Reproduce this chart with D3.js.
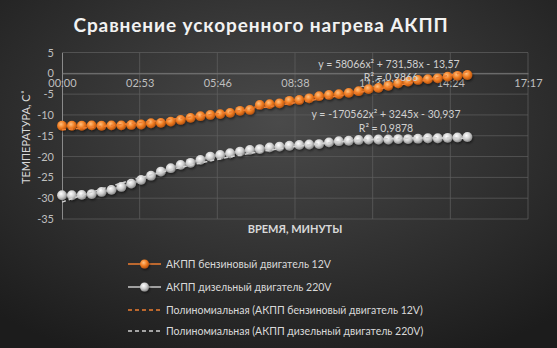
<!DOCTYPE html>
<html>
<head>
<meta charset="utf-8">
<script src="https://cdn.jsdelivr.net/npm/d3@7/dist/d3.min.js"></script>
<style>
  html, body { margin: 0; padding: 0; background: #2b2b2b; }
  svg { display: block; }
  text { font-family: Lato, "Open Sans", sans-serif; }
</style>
</head>
<body>
<svg id="chart" width="557" height="348"></svg>
<script>
// Elapsed time of each reading, seconds from start
const timeSec = [0, 22, 44, 66, 88, 110, 132, 154, 176, 198, 220, 242, 264, 286,
  308, 330, 352, 374, 396, 418, 440, 462, 484, 506, 528, 550, 572, 594,
  616, 638, 660, 682, 704, 726, 748, 770, 792, 814, 836, 858, 880, 902];

// Transmission temperature, °C
const petrol12V = [-12.6, -12.6, -12.6, -12.5, -12.6, -12.5, -12.5, -12.4, -12.3, -12.0,
  -11.9, -11.6, -11.2, -10.7, -10.3, -10.0, -9.8, -9.5, -9.0, -8.8, -7.6, -7.4, -7.2,
  -6.6, -6.4, -6.0, -5.5, -5.2, -5.0, -4.7, -4.3, -3.8, -3.5, -3.0, -2.4, -2.0, -1.6,
  -1.4, -1.2, -0.8, -0.6, -0.4];
const diesel220V = [-29.3, -29.3, -29.2, -29.0, -28.5, -28.0, -27.3, -26.5, -25.6, -24.6,
  -23.6, -22.8, -22.0, -21.5, -20.8, -20.0, -19.6, -19.2, -18.8, -18.4, -18.2, -17.8,
  -17.6, -17.4, -17.2, -17.1, -17.0, -16.6, -16.3, -16.2, -16.0, -15.9, -15.9, -15.9,
  -15.8, -15.8, -15.7, -15.6, -15.6, -15.5, -15.4, -15.3];

// Polynomial trendline coefficients [a2, a1, a0], x measured in days
const petrolTrend = [58066, 731.58, -13.57];
const dieselTrend = [-170562, 3245, -30.937];
const trendLabels = [
  ["y = 58066x² + 731,58x - 13,57", "R² = 0,9866"],
  ["y = -170562x² + 3245x - 30,937", "R² = 0,9878"]
];

const yTicks = [5, 0, -5, -10, -15, -20, -25, -30, -35];
const xTicks = [0, 0.002, 0.004, 0.006, 0.008, 0.010, 0.012];

const titleText = "Сравнение ускоренного нагрева АКПП";
const yTitle = "ТЕМПЕРАТУРА, С˚";
const xTitle = "ВРЕМЯ, МИНУТЫ";
const legendNames = [
  "АКПП бензиновый двигатель 12V",
  "АКПП дизельный двигатель 220V",
  "Полиномиальная (АКПП бензиновый двигатель 12V)",
  "Полиномиальная (АКПП дизельный двигатель 220V)"
];

const W = 557, H = 348;
const svg = d3.select("#chart");
const defs = svg.append("defs");

// background
const bg = defs.append("radialGradient").attr("id", "bg")
  .attr("cx", "50%").attr("cy", "35%").attr("r", "75%");
bg.append("stop").attr("offset", "0%").attr("stop-color", "#4a4a4a");
bg.append("stop").attr("offset", "100%").attr("stop-color", "#1c1c1c");
svg.append("rect").attr("width", W).attr("height", H).attr("fill", "url(#bg)");

function ballGradient(id, c0, c1, c2) {
  const g = defs.append("radialGradient").attr("id", id)
    .attr("cx", "40%").attr("cy", "35%").attr("r", "65%");
  g.append("stop").attr("offset", "0%").attr("stop-color", c0);
  g.append("stop").attr("offset", "55%").attr("stop-color", c1);
  g.append("stop").attr("offset", "100%").attr("stop-color", c2);
}
ballGradient("ballOrange", "#ffc080", "#f07d22", "#b85410");
ballGradient("ballGray", "#ffffff", "#cfcfcf", "#8c8c8c");

const shadow = defs.append("filter").attr("id", "shadow")
  .attr("x", "-50%").attr("y", "-50%").attr("width", "200%").attr("height", "200%");
shadow.append("feDropShadow").attr("dx", 1).attr("dy", 1.5).attr("stdDeviation", 1)
  .attr("flood-color", "#000").attr("flood-opacity", 0.5);

const x = d3.scaleLinear().domain([0, 0.012]).range([62, 528]);
const y = d3.scaleLinear().domain([-35, 5]).range([219, 52.5]);

// gridlines
const grid = svg.append("g");
grid.selectAll("line.h").data(yTicks).join("line")
  .attr("x1", x(0)).attr("x2", x(0.012))
  .attr("y1", d => y(d)).attr("y2", d => y(d))
  .attr("stroke", "#5e5e5e").attr("stroke-width", 0.75);
grid.selectAll("line.v").data(xTicks.slice(1)).join("line")
  .attr("x1", d => x(d)).attr("x2", d => x(d))
  .attr("y1", y(5)).attr("y2", y(-35))
  .attr("stroke", "#5e5e5e").attr("stroke-width", 0.75);

// axes
const yAxis = svg.append("g").attr("transform", `translate(${x(0)},0)`)
  .call(d3.axisLeft(y).tickValues(yTicks).tickSize(0).tickPadding(8).tickFormat(d3.format("d")));
yAxis.select(".domain").attr("stroke", "#8a8a8a").attr("stroke-width", 1);
yAxis.selectAll("text").attr("fill", "#bfbfbf").style("font-size", "11px")
  .text(d => d < 0 ? "-" + Math.abs(d) : d);

const fmtTime = d => {
  const s = Math.round(d * 86400);
  const mm = Math.floor(s / 60), ss = s % 60;
  return String(mm).padStart(2, "0") + ":" + String(ss).padStart(2, "0");
};
const xAxis = svg.append("g").attr("transform", `translate(0,${y(0)})`)
  .call(d3.axisBottom(x).tickValues(xTicks).tickSize(0).tickPadding(6).tickFormat(fmtTime));
xAxis.select(".domain").attr("stroke", "#7a7a7a").attr("stroke-width", 1);
xAxis.selectAll("text").attr("fill", "#bfbfbf").style("font-size", "11px");

// trendlines
function trendPath(coef) {
  const xmax = timeSec[timeSec.length - 1] / 86400;
  const pts = d3.range(0, 61).map(i => {
    const t = xmax * i / 60;
    return [x(t), y(coef[0] * t * t + coef[1] * t + coef[2])];
  });
  return d3.line()(pts);
}

function drawSeries(vals, lineColor, fill) {
  const pts = timeSec.map((s, i) => [x(s / 86400), y(vals[i])]);
  svg.append("path").attr("d", d3.line()(pts)).attr("fill", "none")
    .attr("stroke", lineColor).attr("stroke-width", 2.25);
  svg.append("g").attr("filter", "url(#shadow)")
    .selectAll("circle").data(pts).join("circle")
    .attr("cx", d => d[0]).attr("cy", d => d[1]).attr("r", 4.9)
    .attr("fill", fill);
}
drawSeries(diesel220V, "#c8c8c8", "url(#ballGray)");
drawSeries(petrol12V, "#ed7d31", "url(#ballOrange)");

svg.append("path").attr("d", trendPath(petrolTrend)).attr("fill", "none")
  .attr("stroke", "#ed7d31").attr("stroke-width", 1.5).attr("stroke-dasharray", "4,3");
svg.append("path").attr("d", trendPath(dieselTrend)).attr("fill", "none")
  .attr("stroke", "#d0d0d0").attr("stroke-width", 1.5).attr("stroke-dasharray", "4,3");

// trendline equations
const eq = svg.append("g").attr("fill", "#d0d0d0").style("font-size", "10.5px")
  .attr("text-anchor", "middle");
eq.append("text").attr("x", 389).attr("y", 68).text(trendLabels[0][0]);
eq.append("text").attr("x", 391).attr("y", 81).text(trendLabels[0][1]);
eq.append("text").attr("x", 386).attr("y", 118).text(trendLabels[1][0]);
eq.append("text").attr("x", 386).attr("y", 132).text(trendLabels[1][1]);

// titles
svg.append("text").attr("x", 261).attr("y", 32).attr("text-anchor", "middle")
  .attr("fill", "#f2f2f2").style("font-size", "19px").style("font-weight", "bold")
  .style("letter-spacing", "0.9px").text(titleText);
svg.append("text").attr("transform", "translate(30,137) rotate(-90)")
  .attr("text-anchor", "middle").attr("fill", "#d9d9d9").style("font-size", "11px")
  .text(yTitle);
svg.append("text").attr("x", 295).attr("y", 233).attr("text-anchor", "middle")
  .attr("fill", "#d9d9d9").style("font-size", "11px").style("font-weight", "bold")
  .text(xTitle);

// legend
const legY = [264, 287, 310, 331];
const leg = svg.append("g");
const legStyles = [
  { color: "#ed7d31", fill: "url(#ballOrange)", dash: null },
  { color: "#c8c8c8", fill: "url(#ballGray)", dash: null },
  { color: "#ed7d31", fill: null, dash: "4,3" },
  { color: "#d0d0d0", fill: null, dash: "4,3" }
];
legendNames.forEach((name, i) => {
  const st = legStyles[i];
  const gy = legY[i];
  leg.append("line").attr("x1", 128).attr("x2", 161).attr("y1", gy).attr("y2", gy)
    .attr("stroke", st.color).attr("stroke-width", 1.5)
    .attr("stroke-dasharray", st.dash);
  if (st.fill) {
    leg.append("circle").attr("cx", 144.5).attr("cy", gy).attr("r", 4.5)
      .attr("fill", st.fill).attr("filter", "url(#shadow)");
  }
  leg.append("text").attr("x", 166).attr("y", gy + 4).attr("fill", "#d9d9d9")
    .style("font-size", "10.5px").text(name);
});
</script>
</body>
</html>
